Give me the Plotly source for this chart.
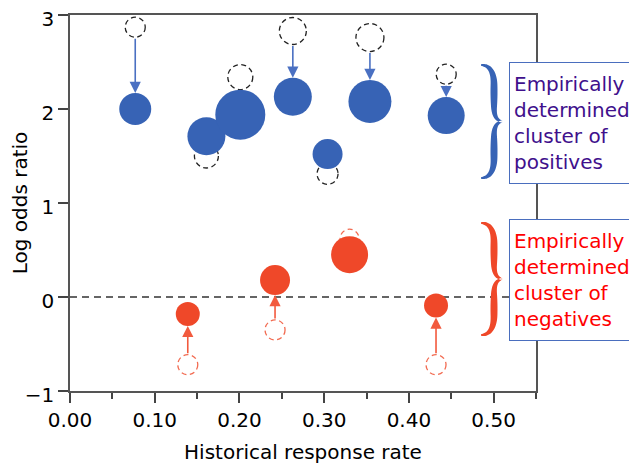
import numpy as np
import plotly.graph_objects as go

# ---------------- data ----------------
blue_x = [0.077, 0.161, 0.201, 0.263, 0.304, 0.354, 0.444]
blue_y = [2.00, 1.71, 1.94, 2.13, 1.52, 2.08, 1.93]
blue_prior_y = [2.87, 1.50, 2.34, 2.83, 1.31, 2.76, 2.37]
blue_size = [32, 38, 50, 38, 30, 43, 37]
blue_prior_size = [20, 24, 25, 27, 21, 28, 20]
blue_arrow = [True, False, False, True, False, True, True]

red_x = [0.139, 0.242, 0.330, 0.432]
red_y = [-0.18, 0.18, 0.45, -0.09]
red_prior_y = [-0.72, -0.35, 0.62, -0.72]
red_size = [24, 30, 37, 24]
red_prior_size = [20, 20, 19, 20]
red_arrow = [True, True, False, True]

x_ticks = [0.0, 0.1, 0.2, 0.3, 0.4, 0.5]
y_ticks = [-1, 0, 1, 2, 3]
x_title = "Historical response rate"
y_title = "Log odds ratio"
pos_label = "Empirically<br>determined<br>cluster of<br>positives"
neg_label = "Empirically<br>determined<br>cluster of<br>negatives"

# ---------------- style ----------------
FONT = "DejaVu Sans"
BLUE = "#3763B5"
BLUE_ARROW = "#4A70C2"
RED = "#EF4829"
RED_ARROW = "#F25A3E"
RED_DASH = "#F26A50"
PURPLE = "#40108C"

# the page body adds an 8px margin around the figure
OFF = 8
WIN_W, WIN_H = 637, 464
FIG_W, FIG_H = WIN_W - OFF, WIN_H - OFF
# plot area in window pixels: left 70, right 536, top 15, bottom 391
M_L = 70 - OFF
M_T = 15 - OFF
M_R = FIG_W - (536 - OFF)
M_B = FIG_H - (391 - OFF)
PW = FIG_W - M_L - M_R
PH = FIG_H - M_T - M_B


def to_paper(px, py):
    """window pixel -> paper coordinates"""
    return (px - OFF - M_L) / PW, (FIG_H - M_B - (py - OFF)) / PH


def bez(p0, p1, p2, p3, n=24):
    t = np.linspace(0, 1, n)[:, None]
    return ((1 - t) ** 3 * p0 + 3 * (1 - t) ** 2 * t * p1
            + 3 * (1 - t) * t ** 2 * p2 + t ** 3 * p3)


def half_brace(x_end, x_spine, x_tip, y_end, y_mid, sgn):
    P = np.array
    a = bez(P([x_end, y_end]), P([x_spine - 5, y_end]),
            P([x_spine, y_end + sgn * 6]), P([x_spine, y_end + sgn * 20]))
    b = np.linspace([x_spine, y_end + sgn * 20], [x_spine, y_mid - sgn * 15], 20)
    c = bez(P([x_spine, y_mid - sgn * 15]), P([x_spine, y_mid - sgn * 5]),
            P([x_tip - 5, y_mid - sgn * 1]), P([x_tip, y_mid]))
    pts = np.vstack([a, b[1:], c[1:]])
    d = np.r_[0, np.cumsum(np.hypot(*np.diff(pts, axis=0).T))]
    s = d / d[-1]
    w = 1.6 + 5.4 * np.sin(np.pi * s) ** 0.8
    tang = np.gradient(pts, axis=0)
    tang /= np.linalg.norm(tang, axis=1)[:, None]
    nrm = np.c_[-tang[:, 1], tang[:, 0]]
    left = pts + nrm * w[:, None] / 2
    right = pts - nrm * w[:, None] / 2
    poly = np.vstack([left, right[::-1]])
    out = []
    for i, (px, py) in enumerate(poly):
        qx, qy = to_paper(px, py)
        out.append(("M" if i == 0 else "L") + f"{qx:.5f},{qy:.5f}")
    return " ".join(out) + " Z"


def brace(top, bot):
    mid = (top + bot) / 2
    return (half_brace(481, 494, 502, top, mid, 1) + " "
            + half_brace(481, 494, 502, bot, mid, -1))


fig = go.Figure()

shapes = []
# zero reference line
shapes.append(dict(type="line", xref="paper", yref="y", x0=0, x1=1, y0=0, y1=0,
                   line=dict(color="#333333", width=1.5, dash="7px,5px"), layer="below"))

# dashed "prior" circles
for xs, ys, ss, col in [(blue_x, blue_prior_y, blue_prior_size, "#222222"),
                        (red_x, red_prior_y, red_prior_size, RED_DASH)]:
    for x, y, s in zip(xs, ys, ss):
        r = s / 2
        shapes.append(dict(type="circle", xref="x", yref="y",
                           xsizemode="pixel", ysizemode="pixel",
                           xanchor=x, yanchor=y, x0=-r, x1=r, y0=-r, y1=r,
                           line=dict(color=col, width=1.3, dash="5px,3.5px"),
                           fillcolor="white", layer="below"))

# braces
shapes.append(dict(type="path", xref="paper", yref="paper", path=brace(65, 178),
                   fillcolor=BLUE, line=dict(width=0), layer="above"))
shapes.append(dict(type="path", xref="paper", yref="paper", path=brace(223, 335),
                   fillcolor=RED, line=dict(width=0), layer="above"))

fig.add_trace(go.Scatter(x=blue_x, y=blue_y, mode="markers",
                         marker=dict(size=blue_size, color=BLUE, opacity=1,
                                     line=dict(width=0)),
                         showlegend=False, hoverinfo="skip"))
fig.add_trace(go.Scatter(x=red_x, y=red_y, mode="markers",
                         marker=dict(size=red_size, color=RED, opacity=1,
                                     line=dict(width=0)),
                         showlegend=False, hoverinfo="skip"))

annotations = []
for xs, ys, pys, ss, pss, flags, col in [
        (blue_x, blue_y, blue_prior_y, blue_size, blue_prior_size, blue_arrow, BLUE_ARROW),
        (red_x, red_y, red_prior_y, red_size, red_prior_size, red_arrow, RED_ARROW)]:
    for x, y, py, s, ps, f in zip(xs, ys, pys, ss, pss, flags):
        if not f:
            continue
        annotations.append(dict(x=x, y=y, ax=x, ay=py, xref="x", yref="y",
                                axref="x", ayref="y", text="", showarrow=True,
                                arrowhead=2, arrowsize=1.4, arrowwidth=1.6,
                                arrowcolor=col, standoff=s / 2,
                                startstandoff=ps / 2))

bx0, by_pos = to_paper(509, 62)
_, by_neg = to_paper(509, 219)
for label, ytop, col in [(pos_label, by_pos, PURPLE), (neg_label, by_neg, "#FF0000")]:
    annotations.append(dict(xref="paper", yref="paper", x=bx0, y=ytop,
                            xanchor="left", yanchor="top", text=label,
                            align="left", valign="middle", showarrow=False,
                            font=dict(family=FONT, size=20, color=col),
                            bordercolor="#4A6EBE", borderwidth=1, borderpad=4,
                            bgcolor="white", width=122, height=112))

axis_common = dict(showgrid=False, zeroline=False, showline=True, automargin=False,
                   linecolor="#555555", linewidth=1.5, mirror=True,
                   ticks="outside", ticklen=10, tickwidth=1.5, tickcolor="#444444",
                   ticklabeloverflow="allow",
                   tickfont=dict(family=FONT, size=20, color="black"))

fig.update_layout(
    width=FIG_W, height=FIG_H,
    margin=dict(l=M_L, r=M_R, t=M_T, b=M_B),
    paper_bgcolor="white", plot_bgcolor="white",
    shapes=shapes, annotations=annotations,
    font=dict(family=FONT, color="black"),
    xaxis=dict(range=[0, 0.55], tickvals=x_ticks, tickformat=".2f",
               minor=dict(dtick=0.05, tick0=0, ticks="outside", ticklen=6,
                          tickwidth=1.5, tickcolor="#444444", showgrid=False),
               title=dict(text=x_title, font=dict(family=FONT, size=20, color="black")),
               **axis_common),
    yaxis=dict(range=[-1, 3], tickvals=y_ticks, ticklabelshift=4,
               title=dict(text=y_title, font=dict(family=FONT, size=20, color="black"),
                          standoff=2),
               **axis_common),
)

fig.write_html("out.html")
